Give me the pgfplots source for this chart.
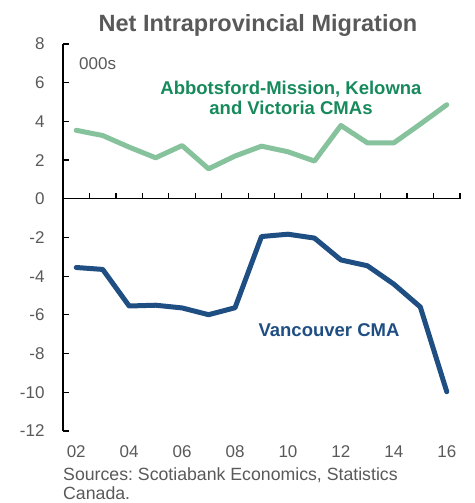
\documentclass[border=0pt]{standalone}
\usepackage{fontspec}
\setmainfont{Liberation Sans}
\usepackage{pgfplots}
\pgfplotsset{compat=1.18}
\definecolor{ttl}{HTML}{595959}
\definecolor{grn}{HTML}{86C29C}
\definecolor{grntxt}{HTML}{178A5C}
\definecolor{blu}{HTML}{1F4E82}
\frenchspacing
\begin{document}
\begin{tikzpicture}
\useasboundingbox (-63pt,-72pt) rectangle (411pt,431pt);
\begin{axis}[
  at={(0pt,0pt)}, anchor=south west,
  width=397pt, height=387pt, scale only axis,
  xmin=1.5, xmax=16.5, ymin=-12, ymax=8,
  axis y line=left, axis x line=bottom, axis line style={-},
  x axis line style={draw=none},
  y axis line style={black, line width=1.6pt},
  ytick={-12,-10,...,8},
  xtick={2,4,6,8,10,12,14,16},
  xticklabels={02,04,06,08,10,12,14,16},
  major x tick style={draw=none},
  ytick style={black, line width=1.2pt},
  tick align=inside, major tick length=6pt,
  ticklabel style={font=\fontsize{17}{17}\selectfont, text=ttl},
  /pgf/number format/assume math mode=true,
  yticklabel style={xshift=-15pt},
  xticklabel style={yshift=-11pt},
  clip=false,
]
\draw[black, line width=1.2pt] (axis cs:1.5,0) -- (axis cs:16.5,0);
\pgfplotsinvokeforeach{2.5,3.5,4.5,5.5,6.5,7.5,8.5,9.5,10.5,11.5,12.5,13.5,14.5,15.5,16.5}{
  \draw[black, line width=1.2pt] (axis cs:#1,0) -- ++(0pt,6pt);
}
\addplot[grn, line width=5pt, line join=round, line cap=round] coordinates {
(2,3.54) (3,3.27) (4,2.67) (5,2.12) (6,2.75) (7,1.55) (8,2.21) (9,2.72)
(10,2.43) (11,1.95) (12,3.79) (13,2.89) (14,2.89) (15,3.86) (16,4.86)
};
\addplot[blu, line width=5pt, line join=round, line cap=round] coordinates {
(2,-3.55) (3,-3.65) (4,-5.54) (5,-5.50) (6,-5.64) (7,-5.99) (8,-5.63) (9,-1.95)
(10,-1.83) (11,-2.03) (12,-3.16) (13,-3.46) (14,-4.41) (15,-5.59) (16,-9.97)
};
\end{axis}
\node[text=ttl, font=\fontsize{23.5}{23.5}\selectfont\bfseries, anchor=base, inner sep=0pt] at (195pt,399pt) {Net Intraprovincial Migration};
\node[text=ttl, font=\fontsize{17}{17}\selectfont, anchor=base west, inner sep=0pt] at (16pt,361pt) {000s};
\node[text=grntxt, font=\fontsize{18.5}{18.5}\selectfont\bfseries, anchor=base, inner sep=0pt] at (228pt,336pt) {Abbotsford-Mission, Kelowna};
\node[text=grntxt, font=\fontsize{18.5}{18.5}\selectfont\bfseries, anchor=base, inner sep=0pt] at (228pt,316pt) {and Victoria CMAs};
\node[text=blu, font=\fontsize{18.5}{18.5}\selectfont\bfseries, anchor=base, inner sep=0pt] at (266pt,94.3pt) {Vancouver CMA};
\node[text=ttl, font=\fontsize{17.7}{17.7}\selectfont, anchor=base west, inner sep=0pt] at (0pt,-49.5pt) {Sources: Scotiabank Economics, Statistics};
\node[text=ttl, font=\fontsize{17.7}{17.7}\selectfont, anchor=base west, inner sep=0pt] at (0pt,-68.5pt) {Canada.};
\end{tikzpicture}
\end{document}
